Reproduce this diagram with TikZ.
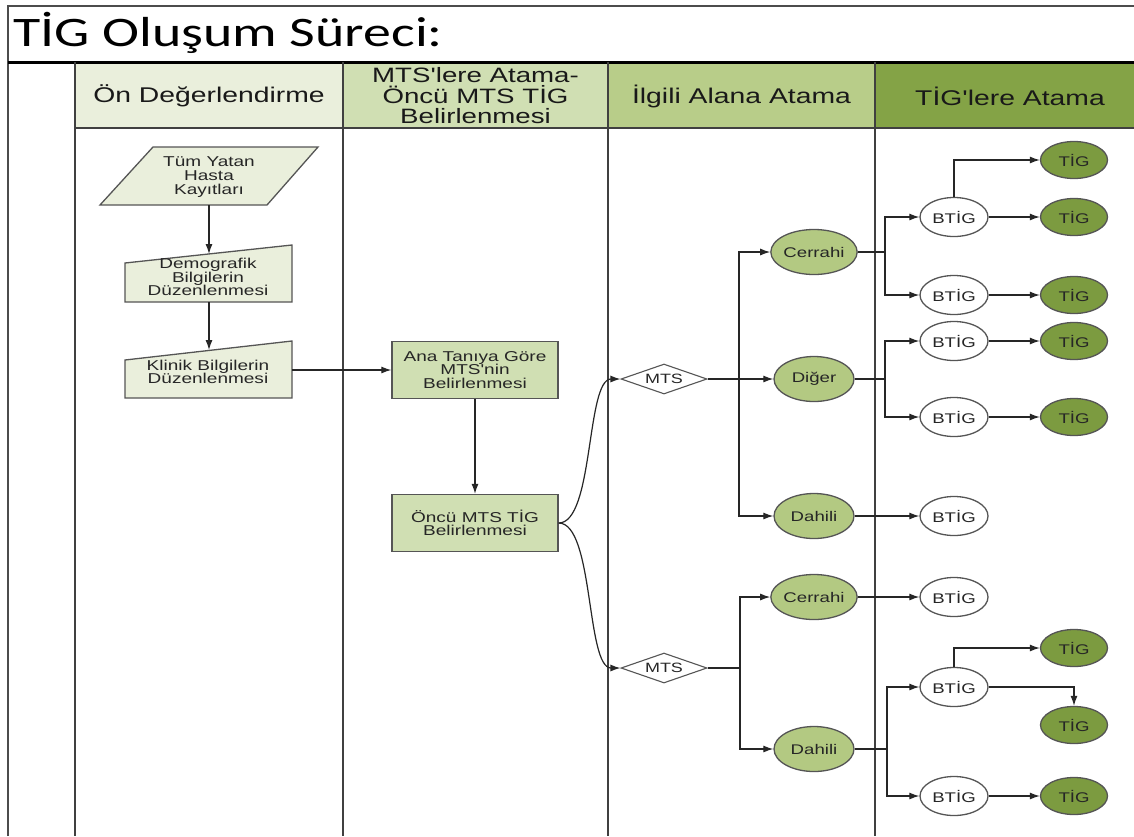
\documentclass[tikz,border=0pt]{standalone}
\usepackage{fontspec}
\setmainfont{Liberation Sans}[FakeStretch=1.33, Ligatures=TeXOff]
\newfontfamily\titlefont{Carlito}[FakeStretch=1.33]
\usetikzlibrary{shapes.geometric,arrows.meta}
\definecolor{cA}{HTML}{EAEFDC}
\definecolor{cB}{HTML}{D0DFB3}
\definecolor{cC}{HTML}{B8CD89}
\definecolor{cD}{HTML}{84A346}
\definecolor{ell}{HTML}{B3C982}
\definecolor{tig}{HTML}{7C9B40}
\definecolor{bord}{HTML}{555555}
\definecolor{txtc}{HTML}{262626}
\tikzset{
  frame/.style={draw=black!75, line width=2.6pt},
  shp/.style={draw=bord, line width=1.3pt},
  txt/.style={align=center, text=txtc, font=\fontsize{14.3}{13.6}\selectfont, inner sep=0pt},
  hdr/.style={align=center, text=black!90, font=\fontsize{21.3}{21}\selectfont, inner sep=0pt},
  boxn/.style={shp, rectangle, fill=cB, minimum width=166pt, minimum height=57pt, txt},
  elln/.style={shp, ellipse, fill=ell, minimum width=80pt, minimum height=45pt, inner sep=0pt, text=txtc, font=\fontsize{14}{14}\selectfont},
  btig/.style={shp, ellipse, fill=white, minimum width=68pt, minimum height=39pt, inner sep=0pt, text=txtc, font=\fontsize{14}{14}\selectfont},
  tign/.style={shp, ellipse, fill=tig, minimum width=67pt, minimum height=37pt, inner sep=0pt, text=txtc, font=\fontsize{14}{14}\selectfont},
  dia/.style={draw=bord, line width=1.1pt, diamond, aspect=3, fill=white, minimum width=86pt, minimum height=30pt, inner sep=0pt, text=txtc, font=\fontsize{13.5}{13.5}\selectfont},
  con/.style={draw=black!85, line width=1.2pt},
  arr/.style={con, -{Latex[length=10pt,width=7pt]}},
}
\begin{document}
\begin{tikzpicture}[x=1pt,y=-1pt]
\useasboundingbox (0,0) rectangle (1134,836);
\fill[white] (0,0) rectangle (1134,836);
% header fills
\node[fill=cA, minimum width=268pt, minimum height=66pt, inner sep=0pt] (hA) at (209,95) {};
\node[fill=cB, minimum width=265pt, minimum height=66pt, inner sep=0pt] (hB) at (475.5,95) {};
\node[fill=cC, minimum width=267pt, minimum height=66pt, inner sep=0pt] (hC) at (741.5,95) {};
\node[fill=cD, minimum width=259pt, minimum height=66pt, inner sep=0pt] (hD) at (1004.5,95) {};
\node[hdr] (tA) at (209,96) {Ön Değerlendirme};
\node[hdr, font=\fontsize{20.8}{20.5}\selectfont] (tB) at (475.5,96) {MTS'lere Atama-\\Öncü MTS TİG\\Belirlenmesi};
\node[hdr] (tC) at (741.5,96) {İlgili Alana Atama};
\node[hdr] (tD) at (1010,96) {TİG'lere Atama};
% frame
\draw[draw=black!70, line width=2pt] (8,836) -- (8,6) -- (1134,6);
\draw[draw=black, line width=3pt] (8,62) -- (1134,62);
\draw[frame, line width=2pt] (75,128) -- (1134,128);
\foreach \xx in {75,343,608,875} \draw[frame] (\xx,62) -- (\xx,836);
% title
\node[anchor=base west, inner sep=0pt, font=\titlefont\fontsize{42}{42}\selectfont] (title) at (13,46) {TİG Oluşum Süreci:};
% column 1
\draw[shp, fill=cA] (100,205) -- (153,147) -- (318,147) -- (267,205) -- cycle;
\node[txt] (kayit) at (209,177) {Tüm Yatan\\Hasta\\Kayıtları};
\coordinate (kayitB) at (209,205);
\draw[shp, fill=cA] (125,263) -- (292,245) -- (292,302) -- (125,302) -- cycle;
\node[txt] (demo) at (208,277) {Demografik\\Bilgilerin\\Düzenlenmesi};
\coordinate (demoT) at (209,254);
\coordinate (demoB) at (209,302);
\draw[shp, fill=cA] (125,360) -- (292,341) -- (292,398) -- (125,398) -- cycle;
\node[txt] (klin) at (208,372) {Klinik Bilgilerin\\Düzenlenmesi};
\coordinate (klinT) at (209,350);
\coordinate (klinR) at (292,370);
\draw[arr] (kayitB) -- (demoT);
\draw[arr] (demoB) -- (klinT);
% column 2
\node[boxn] (ana) at (475,370) {Ana Tanıya Göre\\MTS'nin\\Belirlenmesi};
\node[boxn] (oncu) at (475,523) {Öncü MTS TİG\\Belirlenmesi};
\draw[arr] (klinR) -- (ana.west);
\draw[arr] (ana.south) -- (oncu.north);
% column 3
\node[dia] (m1) at (664,379) {MTS};
\node[dia] (m2) at (664,668) {MTS};
\draw[arr] (oncu.east) .. controls (594,523) and (586,379) .. (m1.west);
\draw[arr] (oncu.east) .. controls (594,523) and (586,668) .. (m2.west);
\node[elln] (cer1) at (814,252) {Cerrahi};
\node[elln] (dig) at (814,379) {Diğer};
\node[elln] (dah1) at (814,516) {Dahili};
\node[elln] (cer2) at (814,597) {Cerrahi};
\node[elln] (dah2) at (814,749) {Dahili};
\coordinate (j1) at (739,379);
\coordinate (j2) at (740,668);
\draw[arr] (m1.east) -- (dig.west);
\draw[arr] (j1) |- (cer1.west);
\draw[arr] (j1) |- (dah1.west);
\draw[con] (m2.east) -- (j2);
\draw[arr] (j2) |- (cer2.west);
\draw[arr] (j2) |- (dah2.west);
% column 4
\node[btig] (b1) at (954,217) {BTİG};
\node[btig] (b2) at (954,295) {BTİG};
\node[btig] (b3) at (954,341) {BTİG};
\node[btig] (b4) at (954,417) {BTİG};
\node[btig] (b5) at (954,516) {BTİG};
\node[btig] (b6) at (954,597) {BTİG};
\node[btig] (b7) at (954,687) {BTİG};
\node[btig] (b8) at (954,796) {BTİG};
\node[tign] (t1) at (1074,160) {TİG};
\node[tign] (t2) at (1074,217) {TİG};
\node[tign] (t3) at (1074,295) {TİG};
\node[tign] (t4) at (1074,341) {TİG};
\node[tign] (t5) at (1074,417) {TİG};
\node[tign] (t6) at (1074,648) {TİG};
\node[tign] (t7) at (1074,725) {TİG};
\node[tign] (t8) at (1074,796) {TİG};
\coordinate (k1) at (885,252);
\coordinate (k2) at (885,379);
\coordinate (k3) at (887,749);
\draw[con] (cer1.east) -- (k1);
\draw[arr] (k1) |- (b1.west);
\draw[arr] (k1) |- (b2.west);
\draw[con] (dig.east) -- (k2);
\draw[arr] (k2) |- (b3.west);
\draw[arr] (k2) |- (b4.west);
\draw[arr] (dah1.east) -- (b5.west);
\draw[arr] (cer2.east) -- (b6.west);
\draw[con] (dah2.east) -- (k3);
\draw[arr] (k3) |- (b7.west);
\draw[arr] (k3) |- (b8.west);
\draw[arr] (b1.north) |- (t1.west);
\draw[arr] (b1.east) -- (t2.west);
\draw[arr] (b2.east) -- (t3.west);
\draw[arr] (b3.east) -- (t4.west);
\draw[arr] (b4.east) -- (t5.west);
\draw[arr] (b7.north) |- (t6.west);
\draw[arr] (b7.east) -| (t7.north);
\draw[arr] (b8.east) -- (t8.west);
\end{tikzpicture}
\end{document}
